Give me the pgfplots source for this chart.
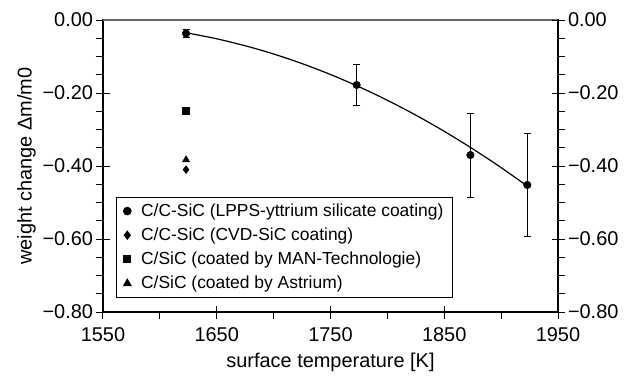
\documentclass[border=0pt]{standalone}
\usepackage{fontspec}
\setmainfont{Liberation Sans}
\usepackage{pgfplots}
\pgfplotsset{compat=1.18}
\begin{document}
\begin{tikzpicture}
\pgfplotsset{
 common/.style={
  scale only axis, width=455bp, height=292bp,
  xmin=1550, xmax=1950, ymin=-0.8, ymax=0,
  ytick={-0.8,-0.6,-0.4,-0.2,0},
  yticklabels={−0.80,−0.60,−0.40,−0.20,0.00},
  minor y tick num=3,
  tick align=center,
  major tick length=13bp, minor tick length=7bp,
  tick style={line width=1bp, black},
  axis line style={line width=1.4bp, black},
  tick label style={font=\fontsize{20}{23}\selectfont},
  label style={font=\fontsize{20}{23}\selectfont},
 }
}
\begin{axis}[common, name=ax,
  xtick={1550,1650,1750,1850,1950},
  xticklabels={1550,1650,1750,1850,1950},
  minor x tick num=1,
  xtick pos=lower, ytick pos=left,
  minor x tick style={yshift=-3.5bp},
  minor y tick style={xshift=-3.5bp},
  xticklabel style={yshift=-6bp},
  xlabel={surface temperature [K]},
  xlabel style={yshift=-4bp},
  ylabel={weight change Δm/m0},
  clip=false,
  legend cell align=left,
  legend style={at={(rel axis cs:0.0286,0.048)}, anchor=south west,
    draw=black, line width=1bp, font=\fontsize{17.5}{21}\selectfont,
    row sep=6bp, column sep=8bp, inner xsep=7bp, inner ysep=5bp},
]
\addplot[smooth, line width=1.2bp, black, forget plot] coordinates {
(1623,-0.035) (1648,-0.0501) (1673,-0.0689) (1698,-0.0912) (1723,-0.1172)
(1748,-0.1468) (1773,-0.18) (1798,-0.2168) (1823,-0.2572) (1848,-0.3013)
(1873,-0.349) (1898,-0.4001) (1923,-0.455)};
\addplot[only marks, black, mark=*, mark size=3.8bp,
  error bars/.cd, y dir=both, y explicit,
  error bar style={line width=0.9bp, black},
  error mark options={rotate=90, mark size=3.5bp, line width=0.9bp, black}]
  coordinates {
  (1623,-0.037) +- (0,0.01)
  (1773,-0.178) +- (0,0.056)
  (1873,-0.370) +- (0,0.115)
  (1923,-0.452) +- (0,0.141)};
\addlegendentry{C/C-SiC (LPPS-yttrium silicate coating)}
\addplot[only marks, black, mark=diamond*, mark size=4bp] coordinates {(1623,-0.410)};
\addlegendentry{C/C-SiC (CVD-SiC coating)}
\addplot[only marks, black, mark=square*, mark size=3.5bp] coordinates {(1623,-0.248)};
\addlegendentry{C/SiC (coated by MAN-Technologie)}
\addplot[only marks, black, mark=triangle*, mark size=4.2bp] coordinates {(1623,-0.383)};
\addlegendentry{C/SiC (coated by Astrium)}
\draw[line width=1.4bp, black!60] (rel axis cs:0,1) -- (rel axis cs:1,1);
\end{axis}
\begin{axis}[common, axis x line=none, axis y line*=right, ytick pos=right,
  minor y tick style={xshift=3.5bp}]
\addplot[draw=none] coordinates {(1550,0)};
\end{axis}
\path (ax.south west) ++(-103bp,-68bp);
\path (ax.north east) ++(72bp,20bp);
\end{tikzpicture}
\end{document}
